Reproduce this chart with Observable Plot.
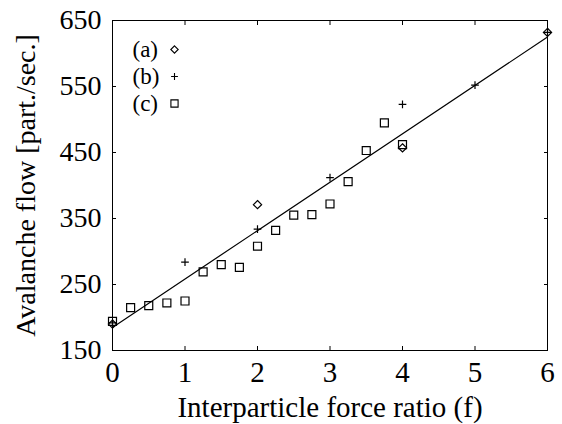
<!DOCTYPE html>
<html><head><meta charset="utf-8">
<script src="https://cdn.jsdelivr.net/npm/d3@7"></script>
<script src="https://cdn.jsdelivr.net/npm/@observablehq/plot@0.6"></script>
<style>body{margin:0;background:#fff}</style>
</head><body><div id="chart"></div>
<script>
const seriesNames = ["(a)", "(b)", "(c)"];
const seriesSymbols = ["diamond2", "plus", "square"];
const aForce = [0, 2, 4, 6];
const aFlow = [190, 371, 457, 632];
const bForce = [0, 1, 2, 3, 4, 5, 6];
const bFlow = [192, 284, 334, 412, 523, 552, 632];
const cForce = [0, 0.25, 0.5, 0.75, 1, 1.25, 1.5, 1.75, 2, 2.25, 2.5, 2.75, 3, 3.25, 3.5, 3.75, 4];
const cFlow = [194, 215, 218, 222, 225, 269, 280, 276, 308, 332, 355, 356, 372, 406, 453, 495, 462];
const fitForce = [0, 6];
const fitFlow = [185, 625];
const xTicks = [0, 1, 2, 3, 4, 5, 6];
const yTicks = [150, 250, 350, 450, 550, 650];

const series = [
  {force: aForce, flow: aFlow, r: 3.7},
  {force: bForce, flow: bFlow, r: 2.6},
  {force: cForce, flow: cFlow, r: 4.5}
];

const font = "Liberation Serif, Times New Roman, serif";
const tick = {tickSize: 4, inset: 4, tickFormat: () => "", label: null};
const marks = [
  Plot.frame({stroke: "black", strokeWidth: 1}),
  Plot.axisX(xTicks, {anchor: "bottom", ...tick}),
  Plot.axisX(xTicks, {anchor: "top", ...tick}),
  Plot.axisY(yTicks, {anchor: "left", ...tick}),
  Plot.axisY(yTicks, {anchor: "right", ...tick}),
  Plot.axisX(xTicks, {anchor: "bottom", tickSize: 0, tickPadding: 11, fontSize: 29,
    label: "Interparticle force ratio (f)", labelAnchor: "center", labelArrow: "none", labelOffset: 66}),
  Plot.axisY(yTicks, {anchor: "left", tickSize: 0, tickPadding: 11, fontSize: 28,
    label: "Avalanche flow [part./sec.]", labelAnchor: "center", labelArrow: "none", labelOffset: 97}),
  Plot.line(fitFlow, {x: fitForce, y: fitFlow, stroke: "black", strokeWidth: 1.2})
];
series.forEach((s, i) => {
  marks.push(Plot.dot(s.flow, {x: s.force, y: s.flow, symbol: seriesSymbols[i], r: s.r,
    stroke: "black", strokeWidth: 1.2, fill: "none"}));
  marks.push(Plot.text([seriesNames[i]], {text: d => d, frameAnchor: "top-left", dx: 20, dy: 29 + 27 * i,
    textAnchor: "start", lineAnchor: "middle", fontSize: 23, fill: "black"}));
  marks.push(Plot.dot([seriesNames[i]], {frameAnchor: "top-left", dx: 62, dy: 29 + 27 * i,
    symbol: seriesSymbols[i], r: s.r * 0.9, stroke: "black", strokeWidth: 1.1, fill: "none"}));
});

const chart = Plot.plot({
  width: 562,
  height: 424,
  marginLeft: 112,
  marginRight: 15,
  marginTop: 20,
  marginBottom: 74,
  style: {fontFamily: font, fontSize: "28px", color: "black", background: "white"},
  x: {domain: [0, 6]},
  y: {domain: [150, 650]},
  marks
});
document.getElementById("chart").append(chart);
</script>
</body></html>
